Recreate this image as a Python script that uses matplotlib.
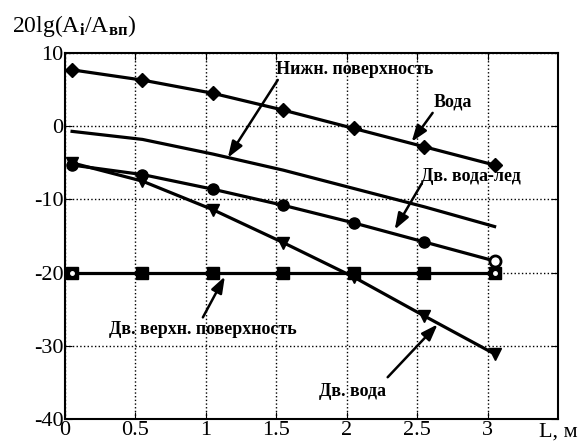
import numpy as np
import matplotlib.pyplot as plt

plt.rcParams['font.family'] = ['Liberation Serif', 'DejaVu Serif']
plt.rcParams['mathtext.fontset'] = 'custom'
plt.rcParams['mathtext.rm'] = 'Liberation Serif'
plt.rcParams['mathtext.it'] = 'Liberation Serif'
plt.rcParams['mathtext.bf'] = 'Liberation Serif:bold'
plt.rcParams['axes.unicode_minus'] = False

# distance, m
L = [0.05, 0.55, 1.05, 1.55, 2.05, 2.55, 3.05]

# 20lg(Ai/Avp), dB
voda = [7.7, 6.3, 4.5, 2.2, -0.3, -2.8, -5.3]
nizhn_pov = [-0.7, -1.8, -3.8, -6.0, -8.5, -11.0, -13.7]
dv_voda_led = [-5.3, -6.6, -8.6, -10.8, -13.2, -15.8, -18.4]
dv_voda = [-5.0, -7.5, -11.4, -15.9, -20.6, -25.9, -31.1]
dv_verhn_pov = [-20, -20, -20, -20, -20, -20, -20]

fig = plt.figure(figsize=(5.79, 4.44), dpi=100)
ax = fig.add_axes([0.1123, 0.056, 0.8514, 0.8246])

lw = 2.3
ax.plot(L, voda, color='black', lw=lw, marker='D', ms=7)
ax.plot(L, nizhn_pov, color='black', lw=lw)
ax.plot(L, dv_voda_led, color='black', lw=lw, marker='o', ms=8, mfc='black')
ax.plot(L[-1:], dv_voda_led[-1:], color='black', marker='o', ms=8, mfc='white', mew=2, ls='none')
ax.plot(L, dv_voda, color='black', lw=lw, marker='v', ms=9)
ax.plot(L, dv_verhn_pov, color='black', lw=lw, marker='s', ms=8)
ax.plot([L[0], L[-1]], [dv_verhn_pov[0], dv_verhn_pov[-1]], color='white', marker='o', ms=2.5, ls='none')

ax.set_xlim(0, 3.5)
ax.set_ylim(-40, 10)
ax.set_xticks([0, 0.5, 1, 1.5, 2, 2.5, 3])
ax.set_xticklabels(['0', '0.5', '1', '1.5', '2', '2.5', '3'])
ax.set_yticks([-40, -30, -20, -10, 0, 10])
ax.grid(True, ls=':', color='black', lw=1)
ax.tick_params(direction='in', top=True, right=True, labelsize=16, pad=1, length=5)
for s in ax.spines.values():
    s.set_linewidth(1.5)

arr = dict(arrowstyle='-|>,head_length=0.7,head_width=0.25', color='black', lw=1.8,
           mutation_scale=14, shrinkA=0, shrinkB=0)
fs = 13

def px(x, y):
    return ((x - 65) / 141.0, (126.4 - y) / 7.34)

labels = ['Нижн. поверхность', 'Вода', 'Дв. вода-лед', 'Дв. верхн. поверхность', 'Дв. вода']
label_pos = [(355, 70), (453, 102), (471, 177), (203, 330), (353, 392)]
arrow_tail = [(278, 80), (433, 113), (422, 184), (203, 318), (388, 378)]
arrow_head = [(228, 158), (412, 142), (395, 230), (225, 277), (438, 325)]

for lab, p, t, h in zip(labels, label_pos, arrow_tail, arrow_head):
    ax.text(*px(*p), lab, ha='center', va='center', fontsize=fs, fontweight='bold')
    ax.annotate('', xy=px(*h), xytext=px(*t), arrowprops=arr)

ax.text(1.0, -0.008, 'L, м', transform=ax.transAxes, ha='center', va='top', fontsize=16)
fig.text(12 / 579, 1 - 32 / 444, r'20lg(A$_{\bf i}$/A$_{\bf вп}$)', ha='left', va='baseline', fontsize=17)

fig.savefig('out.png', dpi=100)
